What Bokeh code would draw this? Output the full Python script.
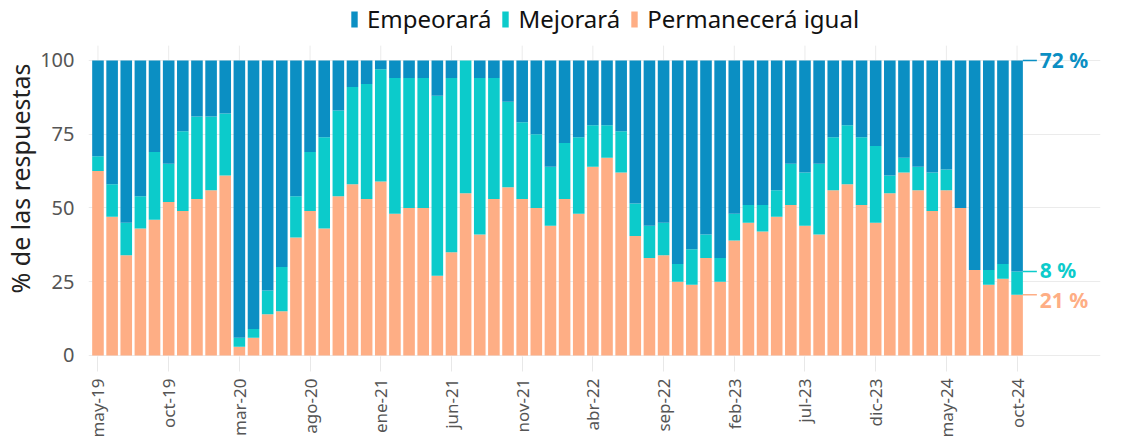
import math
from bokeh.plotting import figure
from bokeh.models import ColumnDataSource, FixedTicker, Legend, LegendItem, Range1d
from bokeh.core.properties import value
from bokeh.embed import file_html
from bokeh.resources import INLINE

# ---------------- data ----------------
month_abbr = ["ene", "feb", "mar", "abr", "may", "jun", "jul", "ago", "sep", "oct", "nov", "dic"]
months = [f"{month_abbr[(4 + i) % 12]}-{19 + (4 + i) // 12:02d}" for i in range(66)]  # may-19 .. oct-24

tick_labels = ["may-19", "oct-19", "mar-20", "ago-20", "ene-21", "jun-21", "nov-21",
               "abr-22", "sep-22", "feb-23", "jul-23", "dic-23", "may-24", "oct-24"]

permanecera = [62.5, 47, 34, 43, 46, 52, 49, 53, 56, 61,
               3, 6, 14, 15, 40, 49, 43, 54, 58, 53,
               59, 48, 50, 50, 27, 35, 55, 41, 53, 57,
               53, 50, 44, 53, 48, 64, 67, 62, 40.5, 33,
               34, 25, 24, 33, 25, 39, 45, 42, 47, 51,
               44, 41, 56, 58, 51, 45, 55, 62, 56, 49,
               56, 50, 29, 24, 26, 20.6]
mejorara = [5, 11, 11, 11, 23, 13, 27, 28, 25, 21,
            3, 3, 8, 15, 14, 20, 31, 29, 33, 39,
            38, 46, 44, 44, 61, 59, 45, 53, 41, 29,
            26, 25, 20, 19, 26, 14, 11, 14, 11, 11,
            11, 6, 12, 8, 8, 9, 6, 9, 9, 14,
            18, 24, 18, 20, 23, 26, 6, 5, 8, 13,
            7, 0, 0, 5, 5, 7.9]
empeorara = [32.5, 42, 55, 46, 31, 35, 24, 19, 19, 18,
             94, 91, 78, 70, 46, 31, 26, 17, 9, 8,
             3, 6, 6, 6, 12, 6, 0, 6, 6, 14,
             21, 25, 36, 28, 26, 22, 22, 24, 48.5, 56,
             55, 69, 64, 59, 67, 52, 49, 49, 44, 35,
             38, 35, 26, 22, 26, 29, 39, 33, 36, 38,
             37, 50, 71, 71, 69, 71.5]

C_EMP = "#0b8fc3"
C_MEJ = "#0ccbcb"
C_PER = "#feae85"
FONT = "Noto Sans"

# ---------------- figure ----------------
xs = list(range(len(months)))
src = ColumnDataSource(dict(x=xs, month=months, per=permanecera, mej=mejorara, emp=empeorara))

p = figure(width=1120, height=444, output_backend="svg", toolbar_location=None,
           x_range=Range1d(-0.67, 70.9), y_range=Range1d(-0.34, 120.3),
           min_border_left=88, min_border_right=20, min_border_bottom=88, min_border_top=0)
p.outline_line_color = None

tick_pos = [months.index(t) for t in tick_labels]

# vertical grid lines (only up to just above 100)
p.segment(x0=tick_pos, y0=[-0.5] * len(tick_pos), x1=tick_pos, y1=[105] * len(tick_pos),
          line_color="#ebebeb", line_width=1)

rs = p.vbar_stack(["per", "mej", "emp"], x="x", width=0.82, source=src,
                  color=[C_PER, C_MEJ, C_EMP], line_color=None)

# end-of-series annotations
last = len(months) - 1
ys = [100, permanecera[-1] + mejorara[-1], permanecera[-1]]
vals = [empeorara[-1], mejorara[-1], permanecera[-1]]
cols = [C_EMP, C_MEJ, C_PER]
ann = ColumnDataSource(dict(x0=[last + 0.41] * 3, x1=[last + 1.4] * 3, tx=[last + 1.6] * 3,
                            y=ys, ty=[ys[0], ys[1] + 0.6, ys[2] - 1.8],
                            txt=[f"{round(v)} %" for v in vals], c=cols))
p.segment(x0="x0", y0="y", x1="x1", y1="y", color="c", line_width=1.5, source=ann)
p.text(x="tx", y="ty", text="txt", text_color="c", text_font=value(FONT),
       text_font_size="21px", text_font_style="bold", text_baseline="middle",
       text_align="left", source=ann)

# axes
p.yaxis.ticker = FixedTicker(ticks=[0, 25, 50, 75, 100])
p.yaxis.axis_label = "% de las respuestas"
p.yaxis.axis_label_text_font = FONT
p.yaxis.axis_label_text_font_size = "25px"
p.yaxis.axis_label_text_font_style = "normal"
p.yaxis.axis_label_text_color = "#222222"
p.yaxis.axis_label_standoff = 0
p.yaxis.major_label_text_font = FONT
p.yaxis.major_label_text_font_size = "20px"
p.yaxis.major_label_text_color = "#555555"
p.yaxis.major_label_standoff = 8
p.yaxis.axis_line_color = None
p.yaxis.major_tick_line_color = None
p.yaxis.minor_tick_line_color = None

p.xaxis.ticker = FixedTicker(ticks=tick_pos)
p.xaxis.major_label_overrides = {i: t for i, t in zip(tick_pos, tick_labels)}
p.xaxis.major_label_orientation = math.pi / 2
p.xaxis.major_label_text_font = FONT
p.xaxis.major_label_text_font_size = "17px"
p.xaxis.major_label_text_color = "#555555"
p.xaxis.major_label_standoff = 7
p.xaxis.axis_line_color = None
p.xaxis.major_tick_line_color = "#e8e8e8"
p.xaxis.major_tick_out = 15
p.xaxis.major_tick_in = 0
p.xaxis.minor_tick_line_color = None

p.xgrid.grid_line_color = None
p.ygrid.grid_line_color = "#ebebeb"

legend = Legend(items=[LegendItem(label="Empeorará", renderers=[rs[2]]),
                       LegendItem(label="Mejorará", renderers=[rs[1]]),
                       LegendItem(label="Permanecerá igual", renderers=[rs[0]])],
                orientation="horizontal", location=(262, 321),
                label_text_font=FONT, label_text_font_size="24px", label_text_color="#111111",
                glyph_width=8, glyph_height=20, spacing=10, label_standoff=9,
                padding=0, margin=0, border_line_color=None, background_fill_alpha=0)
p.add_layout(legend)

open("out.html", "w").write(file_html(p, INLINE))
